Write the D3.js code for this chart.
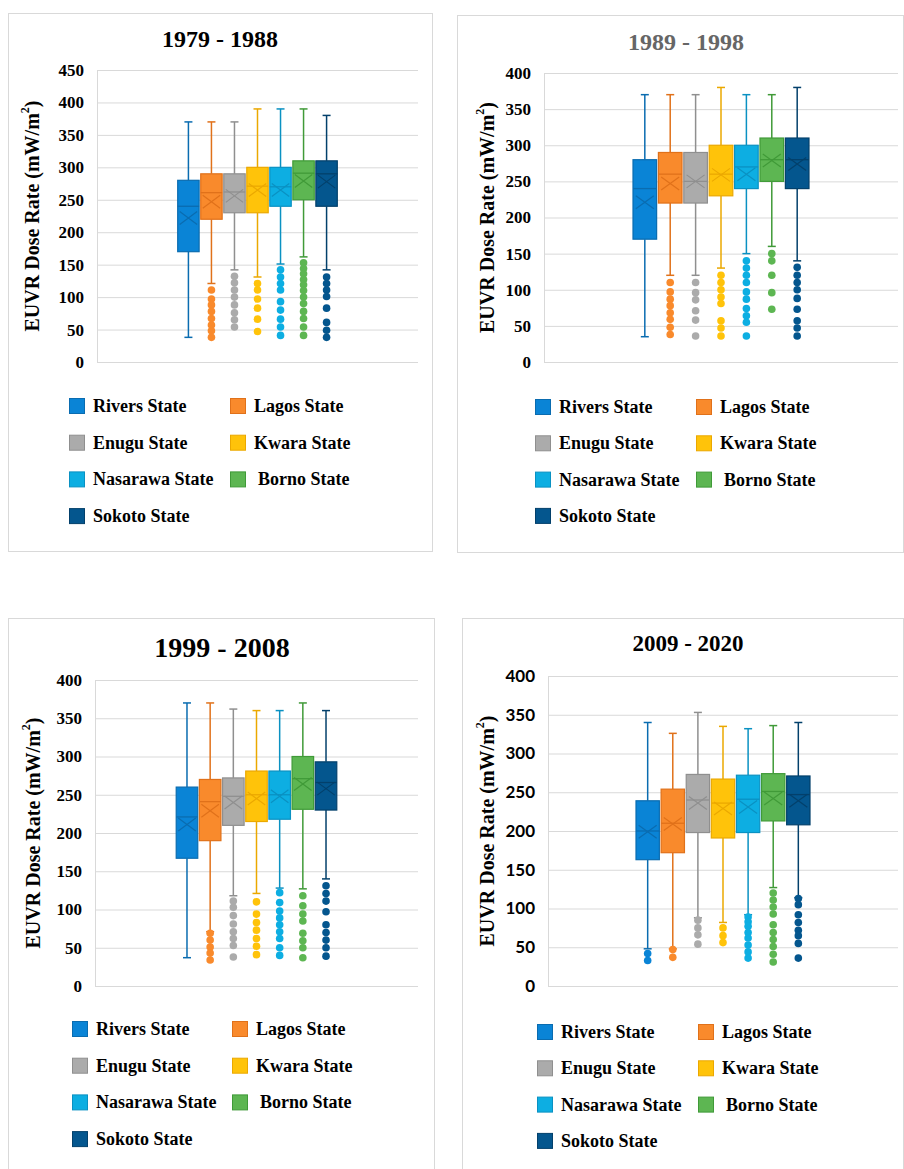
<!DOCTYPE html>
<html><head><meta charset="utf-8">
<script src="https://cdn.jsdelivr.net/npm/d3@7"></script>
<style>body{margin:0;background:#fff}svg{display:block}</style>
</head><body>
<div id="chart"></div>
<script>
const states = ["Rivers State","Lagos State","Enugu State","Kwara State","Nasarawa State","Borno State","Sokoto State"];
const fills   = ["#0a84d6","#f98a2c","#ababab","#ffc30a","#0daee2","#5db652","#04568e"];
const strokes = ["#0a6cb0","#e0711a","#8f8f8f","#eba800","#0a91c2","#409a38","#03406b"];
const periods = ["1979 - 1988","1989 - 1998","1999 - 2008","2009 - 2020"];
const yTicks1 = [0,50,100,150,200,250,300,350,400,450];
const yTicks  = [0,50,100,150,200,250,300,350,400];

// [lowWhisker, q1, median, q3, highWhisker, mean]
const box1979 = [[38,170,240,280,370,222],[121,220,261,290,370,247],[142,230,262,290,370,256],[131,230,271,300,390,265],[151,240,270,300,390,265],[162,250,291,310,390,279],[142,240,290,310,380,278]];
const out1979 = [[],[111,97,88,78,67,57,48,38],[132,122,111,100,88,76,65,54],[121,111,97,83,66,47],[142,131,121,111,93,80,66,54,41],[153,144,136,127,119,110,100,90,78,67,54,41],[131,121,111,101,83,61,49,38]];
const box1989 = [[35,170,240,280,370,221],[120,220,260,290,370,247],[120,220,250,290,370,250],[130,230,260,300,380,259],[150,240,270,300,370,260],[160,250,280,310,370,279],[140,240,280,310,380,274]];
const out1989 = [[],[110,97,87,78,68,59,48,38],[110,96,86,71,58,36],[120,110,100,90,81,57,47,36],[140,130,120,110,97,87,74,64,55,36],[150,140,120,96,73],[131,120,110,100,88,73,57,47,36]];
const box1999 = [[37,167,221,260,370,211],[71,190,241,270,370,229],[118,210,248,272,362,240],[121,215,250,281,360,245],[128,218,250,281,360,248],[127,231,271,300,370,264],[140,230,266,293,360,258]];
const out1999 = [[],[69,60,51,43,34],[111,103,92,81,71,62,53,38],[110,94,83,73,62,52,41],[122,109,98,89,80,71,62,50,40],[118,105,94,85,69,59,50,37],[131,121,111,97,80,70,60,50,39]];
const box2009 = [[48,163,200,239,340,199],[48,172,210,254,326,209],[88,198,240,273,353,236],[82,191,236,267,335,229],[92,198,241,272,332,231],[127,213,251,274,336,242],[114,208,247,271,340,239]];
const out2009 = [[42,33],[47,37],[85,75,66,54],[75,65,56],[89,83,77,69,62,53,44,36],[120,111,102,93,79,69,60,51,41,31],[113,105,92,82,72,65,55,36]];

const boxes = [box1979, box1989, box1999, box2009];
const outs  = [out1979, out1989, out1999, out2009];
const tickSets = [yTicks1, yTicks, yTicks, yTicks];

const layout = [
  {border:[8,13,424,538], tx:220, ty:47, tsize:24, tcolor:"#000", plot:[97,418,70,362], tickFont:"'Liberation Serif',serif", ytx:32, leg:[69,406,230,36.7]},
  {border:[457,15,446,537], tx:686, ty:50, tsize:24, tcolor:"#666", plot:[544,898,73,362], tickFont:"'Liberation Serif',serif", ytx:487, leg:[535,407,696,36.3]},
  {border:[8,618,426,560], tx:222, ty:657, tsize:28, tcolor:"#000", plot:[95,418,680,986], tickFont:"'Liberation Serif',serif", ytx:33, leg:[72,1029,232,36.7]},
  {border:[462,618,441,560], tx:688, ty:651, tsize:23, tcolor:"#000", plot:[548,898,676,986], tickFont:"Lato,'Liberation Sans',sans-serif", ytx:487, leg:[537,1032,698,36.3]}
];

const svg = d3.select("#chart").append("svg").attr("width",904).attr("height",1169);
svg.append("rect").attr("width",904).attr("height",1169).attr("fill","#fff");
const serif = "'Liberation Serif','Times New Roman',serif";

periods.forEach((period, pi) => {
  const L = layout[pi];
  const g = svg.append("g");
  g.append("rect").attr("x",L.border[0]+0.5).attr("y",L.border[1]+0.5).attr("width",L.border[2]).attr("height",L.border[3])
    .attr("fill","#fff").attr("stroke","#d9d9d9").attr("stroke-width",1);
  g.append("text").attr("x",L.tx).attr("y",L.ty).attr("text-anchor","middle")
    .attr("font-family",serif).attr("font-weight","bold").attr("font-size",L.tsize).attr("fill",L.tcolor).text(period);

  const [x0,x1,yTop,yBot] = L.plot;
  const ticks = tickSets[pi];
  const y = d3.scaleLinear().domain([0, d3.max(ticks)]).range([yBot, yTop]);
  const xOuter = d3.scaleBand().domain([period]).range([x0,x1]).paddingOuter(0.5).paddingInner(0);
  const xInner = d3.scaleBand().domain(states).range([0, xOuter.bandwidth()]).paddingInner(0.07).paddingOuter(0.02);

  // gridlines
  const grid = g.append("g").attr("transform",`translate(${x0},0)`)
    .call(d3.axisLeft(y).tickValues(ticks).tickSize(-(x1-x0)).tickFormat(d3.format("d")));
  grid.select(".domain").remove();
  grid.selectAll(".tick line").attr("stroke","#d9d9d9").attr("stroke-width",1);
  grid.selectAll(".tick text").attr("x",-13).attr("font-family",L.tickFont).attr("font-weight","bold").attr("font-size",17).attr("fill","#000");
  g.append("line").attr("x1",x0+0.5).attr("x2",x0+0.5).attr("y1",yTop).attr("y2",yBot).attr("stroke","#d9d9d9");

  // y title
  const yt = g.append("text").attr("transform",`translate(${L.ytx},${(yTop+yBot)/2}) rotate(-90)`)
    .attr("text-anchor","middle").attr("dominant-baseline","central")
    .attr("font-family",serif).attr("font-weight","bold").attr("font-size",20).attr("fill","#000");
  yt.append("tspan").text("EUVR Dose Rate (mW/m");
  yt.append("tspan").attr("baseline-shift","super").attr("font-size",12).text("2");
  yt.append("tspan").text(")");

  const bx = boxes[pi], ob = outs[pi];
  states.forEach((s, si) => {
    const [lo,q1,med,q3,hi,mean] = bx[si];
    const bw = xInner.bandwidth();
    const left = xOuter(period) + xInner(s);
    const cx = left + bw/2;
    const sg = g.append("g");
    const col = fills[si], sc = strokes[si];
    // whiskers
    sg.append("line").attr("x1",cx).attr("x2",cx).attr("y1",y(hi)).attr("y2",y(q3)).attr("stroke",sc).attr("stroke-width",1.5);
    sg.append("line").attr("x1",cx).attr("x2",cx).attr("y1",y(q1)).attr("y2",y(lo)).attr("stroke",sc).attr("stroke-width",1.5);
    sg.append("line").attr("x1",cx-4).attr("x2",cx+4).attr("y1",y(hi)).attr("y2",y(hi)).attr("stroke",sc).attr("stroke-width",1.5);
    sg.append("line").attr("x1",cx-4).attr("x2",cx+4).attr("y1",y(lo)).attr("y2",y(lo)).attr("stroke",sc).attr("stroke-width",1.5);
    // box
    sg.append("rect").attr("x",left).attr("y",y(q3)).attr("width",bw).attr("height",y(q1)-y(q3))
      .attr("fill",col).attr("stroke",sc).attr("stroke-width",1.2);
    sg.append("line").attr("x1",left).attr("x2",left+bw).attr("y1",y(med)).attr("y2",y(med))
      .attr("stroke",sc).attr("stroke-width",1.3);
    // mean X
    const m = y(mean), h = 6.5, w = Math.min(9, bw/2-2);
    sg.append("path").attr("d",`M${cx-w},${m-h}L${cx+w},${m+h}M${cx-w},${m+h}L${cx+w},${m-h}`)
      .attr("stroke",sc).attr("stroke-width",1.2).attr("fill","none");
    // outliers
    sg.selectAll("circle").data(ob[si]).join("circle")
      .attr("cx",cx).attr("cy",d=>y(d)).attr("r",3.8).attr("fill",col);
  });

  // legend
  const [lx,ly,lx2,lh] = L.leg;
  states.forEach((s, si) => {
    const col = si % 2, row = Math.floor(si/2);
    const sx = col === 0 ? lx : lx2;
    const sy = ly + row*lh;
    g.append("rect").attr("x",sx+0.5).attr("y",sy-7.5).attr("width",15).attr("height",15)
      .attr("fill",fills[si]).attr("stroke",strokes[si]).attr("stroke-width",1);
    g.append("text").attr("x",sx + (si===5 ? 28 : 24)).attr("y",sy).attr("dominant-baseline","central")
      .attr("font-family",serif).attr("font-weight","bold").attr("font-size",18).attr("fill","#000").text(s);
  });
});
</script>
</body></html>
